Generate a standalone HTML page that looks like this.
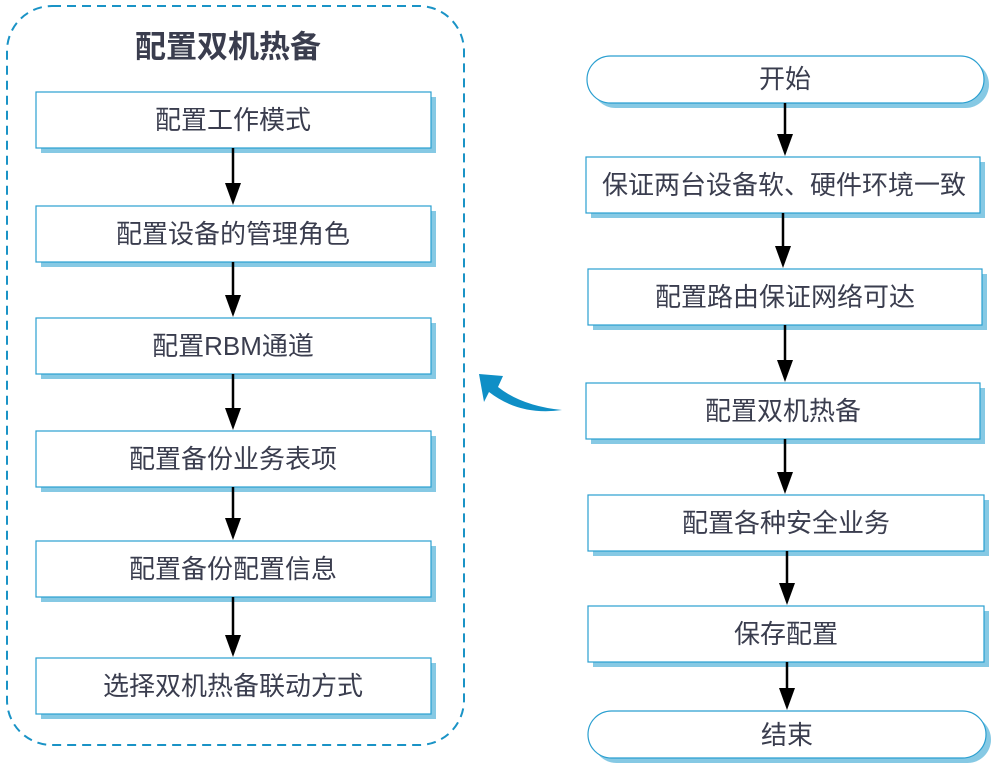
<!DOCTYPE html>
<html><head><meta charset="utf-8"><style>
body{margin:0;background:#fff}
svg text{font-family:"Liberation Sans","Noto Sans CJK SC",sans-serif;fill:#3a3d4e;text-anchor:middle;dominant-baseline:central}
</style></head><body>
<svg width="994" height="768" viewBox="0 0 994 768" xmlns="http://www.w3.org/2000/svg">
<rect x="7" y="6" width="457" height="739" rx="45" fill="none" stroke="#1a93c6" stroke-width="2" stroke-dasharray="9,6"/>
<text x="228" y="47" style="font-size:31px;font-weight:bold">配置双机热备</text>
<g fill="#fff" stroke="#2a9fd0" stroke-width="1.2">
<rect x="41" y="97" width="395" height="56" fill="#86c9e4" stroke="none"/><rect x="36" y="92" width="395" height="56"/>
<rect x="41" y="211" width="395" height="56" fill="#86c9e4" stroke="none"/><rect x="36" y="206" width="395" height="56"/>
<rect x="41" y="323" width="395" height="56" fill="#86c9e4" stroke="none"/><rect x="36" y="318" width="395" height="56"/>
<rect x="41" y="436" width="395" height="56" fill="#86c9e4" stroke="none"/><rect x="36" y="431" width="395" height="56"/>
<rect x="41" y="546" width="395" height="56" fill="#86c9e4" stroke="none"/><rect x="36" y="541" width="395" height="56"/>
<rect x="41" y="663" width="395" height="56" fill="#86c9e4" stroke="none"/><rect x="36" y="658" width="395" height="56"/>
<rect x="592" y="61" width="397" height="47" rx="23.5" fill="#86c9e4" stroke="none"/><rect x="587" y="56" width="397" height="47" rx="23.5"/>
<rect x="591" y="162" width="394" height="56" fill="#86c9e4" stroke="none"/><rect x="586" y="157" width="394" height="56"/>
<rect x="593" y="274" width="394" height="56" fill="#86c9e4" stroke="none"/><rect x="588" y="269" width="394" height="56"/>
<rect x="591" y="388" width="394" height="56" fill="#86c9e4" stroke="none"/><rect x="586" y="383" width="394" height="56"/>
<rect x="593" y="500" width="396" height="56" fill="#86c9e4" stroke="none"/><rect x="588" y="495" width="396" height="56"/>
<rect x="593" y="611" width="396" height="56" fill="#86c9e4" stroke="none"/><rect x="588" y="606" width="396" height="56"/>
<rect x="593" y="716" width="398" height="47" rx="23.5" fill="#86c9e4" stroke="none"/><rect x="588" y="711" width="398" height="47" rx="23.5"/>
</g>
<g style="font-size:26px">
<text x="233" y="120">配置工作模式</text>
<text x="233" y="234">配置设备的管理角色</text>
<text x="233" y="346">配置RBM通道</text>
<text x="233" y="459">配置备份业务表项</text>
<text x="233" y="569">配置备份配置信息</text>
<text x="233" y="686">选择双机热备联动方式</text>
<text x="785" y="79">开始</text>
<text x="784" y="185">保证两台设备软、硬件环境一致</text>
<text x="785" y="297">配置路由保证网络可达</text>
<text x="783" y="411">配置双机热备</text>
<text x="786" y="523">配置各种安全业务</text>
<text x="786" y="634">保存配置</text>
<text x="787" y="735">结束</text>
</g>
<g stroke="#000" stroke-width="2.5" fill="#000">
<line x1="233" y1="148" x2="233" y2="185"/><path d="M225,183 L241,183 L233,205 Z" stroke="none"/>
<line x1="233" y1="262" x2="233" y2="297"/><path d="M225,295 L241,295 L233,317 Z" stroke="none"/>
<line x1="233" y1="374" x2="233" y2="410"/><path d="M225,408 L241,408 L233,430 Z" stroke="none"/>
<line x1="233" y1="487" x2="233" y2="520"/><path d="M225,518 L241,518 L233,540 Z" stroke="none"/>
<line x1="233" y1="597" x2="233" y2="637"/><path d="M225,635 L241,635 L233,657 Z" stroke="none"/>
<line x1="785" y1="103" x2="785" y2="136"/><path d="M777,134 L793,134 L785,156 Z" stroke="none"/>
<line x1="783" y1="213" x2="783" y2="248"/><path d="M775,246 L791,246 L783,268 Z" stroke="none"/>
<line x1="785" y1="325" x2="785" y2="362"/><path d="M777,360 L793,360 L785,382 Z" stroke="none"/>
<line x1="785" y1="439" x2="785" y2="474"/><path d="M777,472 L793,472 L785,494 Z" stroke="none"/>
<line x1="787" y1="551" x2="787" y2="585"/><path d="M779,583 L795,583 L787,605 Z" stroke="none"/>
<line x1="787" y1="662" x2="787" y2="690"/><path d="M779,688 L795,688 L787,710 Z" stroke="none"/>
</g>
<path d="M479,374 L503,376 L498,387 Q522,406 562,410 Q520,416 489,392 L484,402 Z" fill="#0f8fc6"/>
</svg>
</body></html>
